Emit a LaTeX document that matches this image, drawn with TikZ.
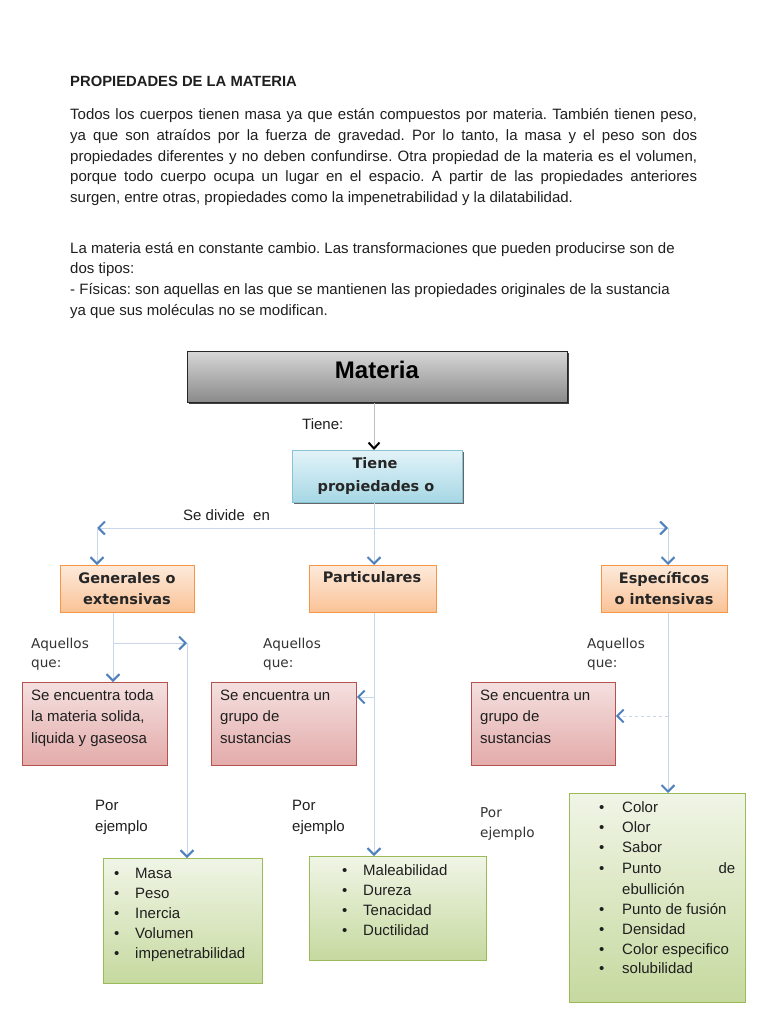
\documentclass[tikz,border=0pt]{standalone}
\usepackage{fontspec}
\setmainfont{Liberation Sans}
\newfontfamily\dejavu{DejaVu Sans}
\usetikzlibrary{arrows.meta,shadows}
\frenchspacing
\definecolor{arrblue}{HTML}{4F81BD}
\definecolor{lineblue}{HTML}{C9D6EA}
\definecolor{orbord}{HTML}{F79646}
\definecolor{ortop}{HTML}{FDEADB}
\definecolor{orbot}{HTML}{FAC296}
\definecolor{rdbord}{HTML}{B5514E}
\definecolor{rdtop}{HTML}{F4E0DF}
\definecolor{rdbot}{HTML}{E3ABAA}
\definecolor{grbord}{HTML}{9BBB59}
\definecolor{grtop}{HTML}{F0F5E6}
\definecolor{grbot}{HTML}{C6D99F}
\definecolor{bltop}{HTML}{E2F3F8}
\definecolor{blbot}{HTML}{A6D7E5}
\definecolor{blbord}{HTML}{86C3D4}
\tikzset{
  chev/.tip={Straight Barb[length=6.5pt,width=13pt,line width=2pt,color=arrblue]},
  conn/.style={draw=lineblue,line width=0.9pt,-chev},
  txt/.style={inner sep=0pt,anchor=base west,font=\fontsize{15}{20}\selectfont,text=black!88},
  lab/.style={inner sep=0pt,anchor=base west,font=\dejavu\fontsize{13.6}{19}\selectfont,text=black!80},
  head/.style={inner sep=0pt,anchor=base,font=\dejavu\bfseries\fontsize{14.5}{20}\selectfont,text=black!85},
  matbox/.style={draw=black!85,line width=1pt,top color=black!16,bottom color=black!46,anchor=north west,
     drop shadow={shadow xshift=1.5pt,shadow yshift=-1.5pt,fill=black!75,opacity=1}},
  bluebox/.style={draw=blbord,line width=0.8pt,top color=bltop,bottom color=blbot,anchor=north west,
     drop shadow={shadow xshift=1.5pt,shadow yshift=-1.5pt,fill=black!60,opacity=1}},
  orbox/.style={draw=orbord,line width=0.8pt,top color=ortop,bottom color=orbot,anchor=north west},
  rdbox/.style={draw=rdbord,line width=0.8pt,top color=rdtop,bottom color=rdbot,anchor=north west},
  grbox/.style={draw=grbord,line width=0.8pt,top color=grtop,bottom color=grbot,anchor=north west},
}
\begin{document}
\begin{tikzpicture}[x=1pt,y=-1pt]
\useasboundingbox[fill=white] (0,0) rectangle (768,1024);

% ---------- header text ----------
\node[txt,font=\bfseries\fontsize{14.8}{20}\selectfont] (title) at (70,87) {PROPIEDADES DE LA MATERIA};
\node[txt] (p1) at (70,120) {\makebox[627pt][s]{Todos los cuerpos tienen masa ya que están compuestos por materia. También tienen peso,}};
\node[txt] (p2) at (70,141) {\makebox[627pt][s]{ya que son atraídos por la fuerza de gravedad. Por lo tanto, la masa y el peso son dos}};
\node[txt] (p3) at (70,162) {\makebox[627pt][s]{propiedades diferentes y no deben confundirse. Otra propiedad de la materia es el volumen,}};
\node[txt] (p4) at (70,182) {\makebox[627pt][s]{porque todo cuerpo ocupa un lugar en el espacio. A partir de las propiedades anteriores}};
\node[txt] (p5) at (70,203) {surgen, entre otras, propiedades como la impenetrabilidad y la dilatabilidad.};
\node[txt] (q1) at (70,253) {La materia está en constante cambio. Las transformaciones que pueden producirse son de};
\node[txt] (q2) at (70,273) {dos tipos:};
\node[txt] (q3) at (70,294) {- Físicas: son aquellas en las que se mantienen las propiedades originales de la sustancia};
\node[txt] (q4) at (70,315) {ya que sus moléculas no se modifican.};

% ---------- boxes ----------
\node[matbox,minimum width=380pt,minimum height=51pt] (mat) at (187,351) {};
\node[inner sep=0pt,anchor=base,font=\bfseries\fontsize{24}{28}\selectfont] (matt) at (377,378) {Materia};

\node[bluebox,minimum width=170pt,minimum height=52pt] (blue) at (292,450) {};
\node[head] (bt1) at (375,468) {Tiene};
\node[head] (bt2) at (376,491) {propiedades o};

\node[orbox,minimum width=134pt,minimum height=47pt] (gen) at (60,565) {};
\node[head] (gt1) at (127,583) {Generales o};
\node[head] (gt2) at (127,604) {extensivas};
\node[orbox,minimum width=127pt,minimum height=47pt] (par) at (309,565) {};
\node[head] (pt1) at (372,582) {Particulares};
\node[orbox,minimum width=126pt,minimum height=47pt] (esp) at (601,565) {};
\node[head] (et1) at (664,583) {Específicos};
\node[head] (et2) at (664,604) {o intensivas};

\node[rdbox,minimum width=145pt,minimum height=83pt] (r1) at (22,682) {};
\node[txt] (r1a) at (31,700) {Se encuentra toda};
\node[txt] (r1b) at (31,721.5) {la materia solida,};
\node[txt] (r1c) at (31,743) {liquida y gaseosa};
\node[rdbox,minimum width=145pt,minimum height=83pt] (r2) at (211,682) {};
\node[txt] (r2a) at (220,700) {Se encuentra un};
\node[txt] (r2b) at (220,721.5) {grupo de};
\node[txt] (r2c) at (220,743) {sustancias};
\node[rdbox,minimum width=144pt,minimum height=83pt] (r3) at (471,682) {};
\node[txt] (r3a) at (480,700) {Se encuentra un};
\node[txt] (r3b) at (480,721.5) {grupo de};
\node[txt] (r3c) at (480,743) {sustancias};

\node[grbox,minimum width=159pt,minimum height=125pt] (g1) at (103,858) {};
\foreach \t [count=\i] in {Masa,Peso,Inercia,Volumen,impenetrabilidad}{
  \node[txt] (g1b\i) at (114,{878+20.2*(\i-1)}) {•};
  \node[txt] (g1t\i) at (135,{878+20.2*(\i-1)}) {\t};
}
\node[grbox,minimum width=177pt,minimum height=104pt] (g2) at (309,856) {};
\foreach \t [count=\i] in {Maleabilidad,Dureza,Tenacidad,Ductilidad}{
  \node[txt] (g2b\i) at (342,{875+20.3*(\i-1)}) {•};
  \node[txt] (g2t\i) at (363,{875+20.3*(\i-1)}) {\t};
}
\node[grbox,minimum width=176pt,minimum height=209pt] (g3) at (569,793) {};
\foreach \t/\yy [count=\i] in {Color/812,Olor/832,Sabor/852,{\makebox[113pt][s]{Punto de}}/873,Punto de fusión/914,Densidad/934,Color especifico/954,solubilidad/973}{
  \node[txt] (g3b\i) at (599,\yy) {•};
  \node[txt] (g3t\i) at (622,\yy) {\t};
}
\node[txt] (g3e) at (622,894) {ebullición};

% ---------- labels ----------
\node[txt] (tiene) at (302,429) {Tiene:};
\node[txt] (sediv) at (183,520) {Se divide\ \ en};
\node[lab] (aq1a) at (31,648) {Aquellos};
\node[lab] (aq1b) at (31,667) {que:};
\node[lab] (aq2a) at (263,648) {Aquellos};
\node[lab] (aq2b) at (263,667) {que:};
\node[lab] (aq3a) at (587,648) {Aquellos};
\node[lab] (aq3b) at (587,667) {que:};
\node[txt] (pe1a) at (95,810) {Por};
\node[txt] (pe1b) at (95,831) {ejemplo};
\node[txt] (pe2a) at (292,810) {Por};
\node[txt] (pe2b) at (292,831) {ejemplo};
\node[lab] (pe3a) at (480,817) {Por};
\node[lab] (pe3b) at (480,837) {ejemplo};

% ---------- connectors ----------
\coordinate (mx) at (374,420);
\draw[draw=black!25,line width=0.9pt,-{Straight Barb[length=6pt,width=11pt,line width=2pt,color=black]}]
  (mat.south -| mx) -- (blue.north -| mx);

\coordinate (px) at (374,697);
\draw[conn] (blue.south -| px) -- (par.north -| px);
\coordinate (hl) at (97,528);
\coordinate (hr) at (668,528);
\draw[draw=lineblue,line width=0.9pt,chev-chev] (hl) -- (hr);
\draw[conn] (hl) -- (gen.north -| hl);
\draw[conn] (hr) -- (esp.north -| hr);

\coordinate (gx) at (113,643);
\coordinate (gy) at (187,643);
\draw[conn] (gen.south -| gx) -- (r1.north -| gx);
\draw[conn] (gx) -- (gy);
\draw[conn] (gy) -- (g1.north -| gy);

\draw[conn] (par.south -| px) -- (g2.north -| px);
\draw[conn] (px) -- (r2.east |- px);

\coordinate (ex) at (668,716);
\draw[conn] (esp.south -| ex) -- (g3.north -| ex);
\draw[conn,dashed] (ex) -- (r3.east |- ex);
\end{tikzpicture}
\end{document}
